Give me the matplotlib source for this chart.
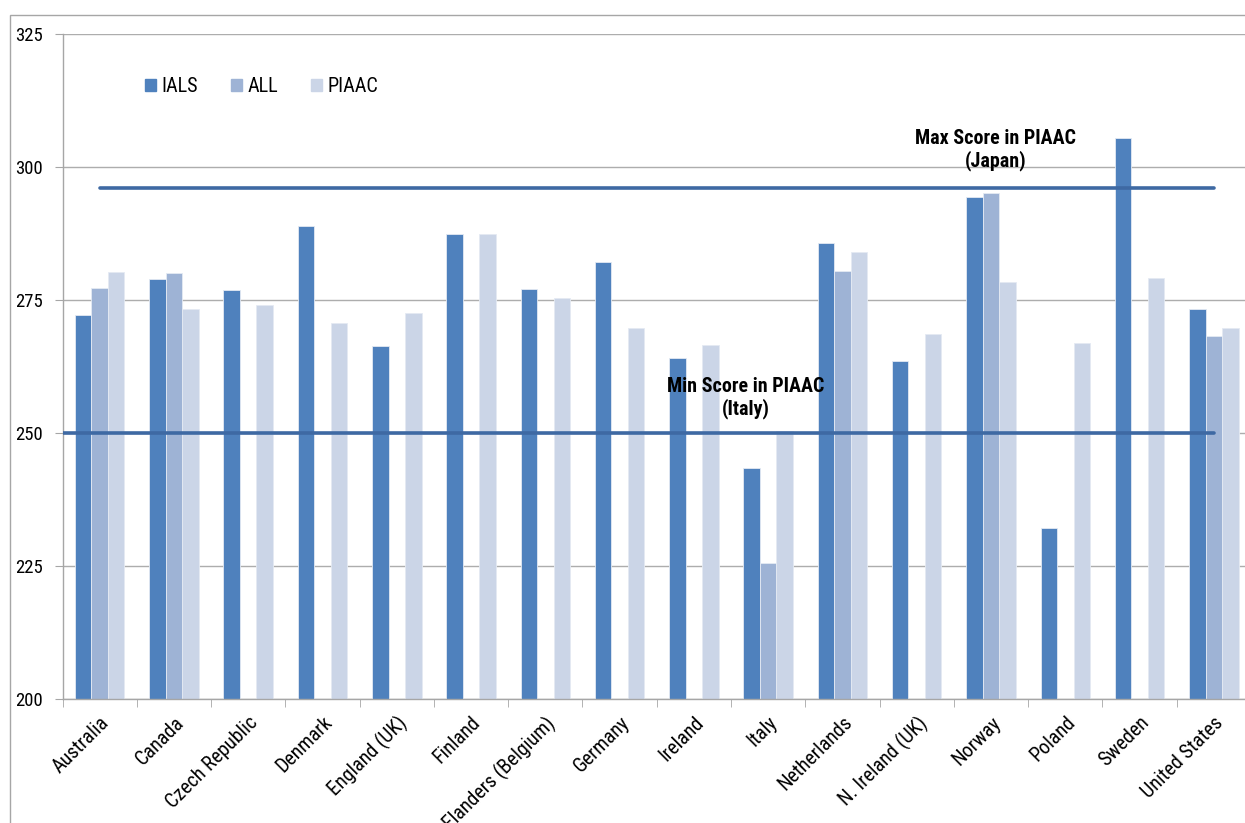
import numpy as np
import matplotlib
matplotlib.use("Agg")
import matplotlib.pyplot as plt
import matplotlib.font_manager as fm
from matplotlib.patches import Rectangle, Patch

countries = ["Australia", "Canada", "Czech Republic", "Denmark", "England (UK)",
             "Finland", "Flanders (Belgium)", "Germany", "Ireland", "Italy",
             "Netherlands", "N. Ireland (UK)", "Norway", "Poland", "Sweden",
             "United States"]
ials = [272.2, 278.9, 276.8, 289.0, 266.4, 287.5, 277.0, 282.1, 264.1, 243.4,
        285.7, 263.5, 294.4, 232.1, 305.5, 273.4]
all_ = [277.3, 280.1, None, None, None, None, None, None, None, 225.5,
        280.5, None, 295.1, None, None, 268.2]
piaac = [280.3, 273.4, 274.0, 270.7, 272.5, 287.5, 275.4, 269.8, 266.5, 250.4,
         284.0, 268.6, 278.4, 266.9, 279.2, 269.7]
max_score = 296.0
min_score = 250.0
yticks = [200, 225, 250, 275, 300, 325]

# pick a narrow font if one is installed
names = {f.name for f in fm.fontManager.ttflist}
stretch = "normal"
narrow = True
if "Liberation Sans Narrow" in names:
    fam = "Liberation Sans Narrow"
elif "Arial Narrow" in names:
    fam = "Arial Narrow"
elif "Roboto Condensed" in names:
    fam = "Roboto Condensed"
elif any(f.name == "DejaVu Sans" and str(f.stretch).lower() in ("condensed", "semi-condensed")
         for f in fm.fontManager.ttflist):
    fam = "DejaVu Sans"
    stretch = "condensed"
else:
    fam = "Liberation Sans"
    narrow = False
plt.rcParams["font.family"] = [fam, "Liberation Sans", "DejaVu Sans"]
plt.rcParams["font.stretch"] = stretch

if narrow:
    fs_xtick, fs_ytick, fs_leg, fs_ann = 14.5, 13.5, 14.5, 14.4
else:
    fs_xtick, fs_ytick, fs_leg, fs_ann = 13, 13, 13, 12.5

W, H = 1245, 823
fig = plt.figure(figsize=(W / 100, H / 100), dpi=100)
fig.patch.set_facecolor("white")

# chart area border
fig.add_artist(Rectangle((10 / W, -0.1), 1.2, (H - 15) / H + 0.1, transform=fig.transFigure,
                         fill=False, edgecolor="#A6A6A6", linewidth=1.0))

ax = fig.add_axes([62.5 / W, (H - 699) / H, (1251 - 62.5) / W, (699 - 34) / H])
ax.set_xlim(-0.5, len(countries) - 0.5)
ax.set_ylim(200, 325)

c_ials, c_all, c_piaac = "#4F81BD", "#9EB3D5", "#CBD5E7"
bw = 0.222
x = np.arange(len(countries))
def draw(vals, off, color):
    xs = [xi + off for xi, v in zip(x, vals) if v is not None]
    hs = [v - 200 for v in vals if v is not None]
    ax.bar(xs, hs, bw, bottom=200, color=color, edgecolor="#E4EAF3", linewidth=0.6, zorder=2)
draw(ials, -bw, c_ials)
draw(all_, 0, c_all)
draw(piaac, bw, c_piaac)

ax.plot([0, 15], [max_score, max_score], color="#3E69A3", lw=2.6, zorder=3, solid_capstyle="round")
ax.plot([-0.5, 15], [min_score, min_score], color="#3E69A3", lw=2.6, zorder=3, solid_capstyle="round")

ax.text(12.06, 299.3, "Max Score in PIAAC\n(Japan)", ha="center", va="bottom", fontsize=fs_ann,
        fontweight="bold", linespacing=1.15, zorder=4)
ax.text(8.7, 252.7, "Min Score in PIAAC\n(Italy)", ha="center", va="bottom", fontsize=fs_ann,
        fontweight="bold", linespacing=1.15, zorder=4)

ax.set_yticks(yticks)
ax.yaxis.grid(True, color="#ADADAD", linewidth=1.0, zorder=0)
ax.set_axisbelow(True)
ax.tick_params(axis="y", length=6, color="#A6A6A6", labelsize=fs_ytick, pad=8)

ax.set_xticks(x)
ax.set_xticklabels(countries, rotation=45, ha="right", va="top", rotation_mode="anchor", fontsize=fs_xtick)
ax.tick_params(axis="x", length=0, pad=10)
ax.set_xticks(np.arange(-0.5, len(countries) + 0.5, 1), minor=True)
ax.tick_params(axis="x", which="minor", length=6, color="#A6A6A6")

for s in ["top", "right"]:
    ax.spines[s].set_visible(False)
for s in ["left", "bottom"]:
    ax.spines[s].set_color("#A6A6A6")
    ax.spines[s].set_linewidth(1.0)

handles = [Patch(color=c_ials), Patch(color=c_all), Patch(color=c_piaac)]
ax.legend(handles, ["IALS", "ALL", "PIAAC"], ncol=3, frameon=False, fontsize=fs_leg,
          loc="center left", bbox_to_anchor=(64 / (1251 - 62.5), (699 - 87) / (699 - 34)),
          handlelength=0.55, handleheight=0.55, handletextpad=0.3, columnspacing=1.6)

fig.savefig("out.png", dpi=100, facecolor="white")
